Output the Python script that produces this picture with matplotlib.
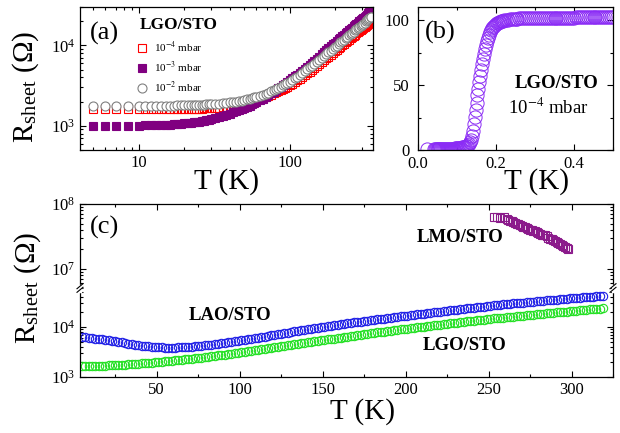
import numpy as np
import matplotlib
matplotlib.use('Agg')
import matplotlib.pyplot as plt
from matplotlib.lines import Line2D
from matplotlib.ticker import LogLocator, NullFormatter, MultipleLocator

plt.rcParams['font.family'] = ['Liberation Serif', 'DejaVu Serif']
plt.rcParams['mathtext.fontset'] = 'stix'
plt.rcParams['xtick.direction'] = 'in'
plt.rcParams['ytick.direction'] = 'in'

# ---- panel (a): LGO/STO, three growth pressures ----
T_a = [5, 6, 7, 8.5, 10, 11, 12, 13, 14, 15, 16, 17, 18, 19, 20, 21, 22, 23, 24, 25,
       26, 27, 28, 29, 30, 32, 34, 36, 38, 40, 42, 44, 46, 48, 50, 52, 54, 56, 58, 60,
       63, 66, 69, 72, 75, 78, 81, 84, 87, 90, 93, 96, 100, 104, 108, 112, 116, 120, 125, 130,
       135, 140, 145, 150, 156, 162, 168, 174, 180, 186, 192, 198, 204, 210, 216, 222, 228, 234, 240, 246,
       252, 258, 264, 270, 276, 282, 288, 294, 300, 306, 312, 318, 324, 330, 336, 342, 346]
R_1e2 = [1780, 1775, 1770, 1770, 1770, 1770, 1772, 1775, 1778, 1780, 1783, 1786, 1790, 1795, 1800, 1805, 1810, 1815, 1820, 1825,
         1830, 1835, 1840, 1845, 1850, 1862, 1878, 1895, 1920, 1950, 1975, 2000, 2030, 2060, 2095, 2130, 2170, 2210, 2250, 2290,
         2355, 2425, 2500, 2585, 2680, 2775, 2870, 2970, 3070, 3170, 3270, 3380, 3520, 3700, 3890, 4090, 4290, 4500, 4770, 5040,
         5320, 5610, 5900, 6200, 6590, 6980, 7380, 7790, 8200, 8620, 9050, 9490, 9940, 10400, 10860, 11330, 11810, 12290, 12780, 13270,
         13770, 14280, 14790, 15310, 15840, 16380, 16930, 17490, 18060, 18640, 19230, 19830, 20440, 21060, 21690, 22330, 22760]
R_1e3 = [1000, 1000, 1000, 1000, 1005, 1010, 1015, 1020, 1025, 1030, 1037, 1044, 1052, 1060, 1070, 1080, 1090, 1100, 1110, 1125,
         1140, 1155, 1170, 1190, 1210, 1250, 1290, 1330, 1375, 1420, 1465, 1510, 1560, 1610, 1665, 1720, 1780, 1840, 1905, 1970,
         2070, 2180, 2290, 2410, 2530, 2655, 2785, 2915, 3050, 3190, 3330, 3480, 3680, 3890, 4110, 4340, 4570, 4800, 5100, 5420,
         5750, 6090, 6440, 6800, 7270, 7750, 8230, 8730, 9240, 9750, 10270, 10810, 11360, 11920, 12480, 13050, 13630, 14220, 14810, 15410,
         16020, 16640, 17270, 17910, 18560, 19220, 19890, 20570, 21260, 21960, 22680, 23410, 24160, 24930, 25720, 26530, 27080]
R_1e4 = [1620, 1615, 1610, 1605, 1600, 1600, 1600, 1600, 1602, 1604, 1606, 1608, 1611, 1614, 1617, 1621, 1625, 1628, 1631, 1635,
         1640, 1645, 1650, 1655, 1660, 1673, 1688, 1705, 1727, 1750, 1775, 1800, 1830, 1860, 1895, 1930, 1965, 2000, 2040, 2080,
         2145, 2215, 2285, 2360, 2440, 2525, 2610, 2700, 2790, 2880, 2975, 3070, 3200, 3350, 3510, 3680, 3850, 4020, 4250, 4480,
         4710, 4950, 5200, 5470, 5810, 6160, 6510, 6870, 7250, 7640, 8030, 8440, 8840, 9250, 9660, 10070, 10490, 10920, 11350, 11790,
         12230, 12680, 13140, 13600, 14070, 14550, 15030, 15520, 16020, 16530, 17050, 17580, 18120, 18670, 19230, 19800, 20190]

# ---- panel (b): superconducting transition ----
T_b = [0.023,
       0.04, 0.0425, 0.045, 0.0475, 0.05, 0.0525, 0.055, 0.0575, 0.06, 0.0625, 0.065, 0.0675,
       0.07, 0.0725, 0.075, 0.0775, 0.08, 0.0825, 0.085, 0.0875, 0.09, 0.0925, 0.095, 0.0975,
       0.1, 0.1025, 0.105, 0.1075, 0.11, 0.1125, 0.115, 0.1175, 0.12,
       0.1225, 0.125, 0.1275, 0.13, 0.1325, 0.135, 0.1375, 0.14, 0.1425, 0.145, 0.1475, 0.15,
       0.1525, 0.155, 0.1575, 0.16, 0.1625, 0.165, 0.1675, 0.17, 0.1725, 0.175, 0.1775, 0.18,
       0.1825, 0.185, 0.1875, 0.19, 0.1925, 0.195,
       0.1975, 0.2, 0.2025, 0.205, 0.2075, 0.21, 0.2125, 0.215, 0.2175, 0.22,
       0.225, 0.23, 0.235, 0.24, 0.245, 0.25, 0.255, 0.26, 0.265, 0.27, 0.275, 0.28, 0.285, 0.29,
       0.295, 0.3, 0.305, 0.31, 0.315, 0.32, 0.325, 0.33, 0.335, 0.34, 0.345, 0.35, 0.355, 0.36,
       0.365, 0.37, 0.375, 0.38, 0.385, 0.39, 0.395, 0.4, 0.405, 0.41, 0.415, 0.42, 0.425, 0.43,
       0.435, 0.44, 0.445, 0.45, 0.455, 0.46, 0.465, 0.47, 0.475, 0.48, 0.485, 0.49, 0.495, 0.5]
R_b = [0.8,
       0.6, 0.6, 0.6, 0.65, 0.7, 0.7, 0.7, 0.75, 0.8, 0.8, 0.8, 0.85,
       0.9, 0.9, 0.9, 0.95, 1.0, 1.0, 1.0, 1.05, 1.1, 1.15, 1.2, 1.25,
       1.3, 1.4, 1.5, 1.65, 1.8, 1.95, 2.1, 2.3, 2.5,
       2.8, 3.2, 3.8, 4.6, 6.0, 8.0, 11, 15, 20, 25.5, 31, 36.5,
       42, 47, 52, 57, 61.5, 66, 70, 74, 77.5, 81, 84, 86.5,
       88.5, 90.5, 92, 93.5, 94.5, 95.5,
       96.3, 97, 97.5, 98, 98.4, 98.8, 99.1, 99.4, 99.6, 99.8,
       100.0, 100.3, 100.5, 100.7, 100.85, 101.0, 101.1, 101.2, 101.3, 101.4, 101.45, 101.5, 101.55, 101.6,
       101.6, 101.6, 101.65, 101.7, 101.7, 101.7, 101.75, 101.8, 101.8, 101.8, 101.8, 101.8, 101.85, 101.85,
       101.85, 101.9, 101.9, 101.9, 101.9, 101.9, 101.9, 101.9, 101.95, 101.95, 101.95, 101.95, 102.0, 102.0,
       102.0, 102.0, 102.0, 102.0, 102.0, 102.0, 102.0, 102.0, 102.0, 102.0, 102.0, 102.0, 102.0, 102.0]

# ---- panel (c): LAO/STO, LGO/STO, LMO/STO ----
T_c = [5, 7, 9, 11, 13, 15, 17, 19, 21, 23, 25, 27, 29, 31, 33, 35, 37, 39, 41, 43,
       45, 47, 49, 51, 53, 55, 57, 59, 61, 63, 65, 67, 69, 71, 73, 75, 77, 79, 81, 83,
       85, 87, 89, 91, 93, 95, 97, 99, 101, 103, 105, 107, 109, 111, 113, 115, 117, 119, 121, 123,
       125, 127, 129, 131, 133, 135, 137, 139, 141, 143, 145, 147, 149, 151, 153, 155, 157, 159, 161, 163,
       165, 167, 169, 171, 173, 175, 177, 179, 181, 183, 185, 187, 189, 191, 193, 195, 197, 199, 201, 203,
       205, 207, 209, 211, 213, 215, 217, 219, 221, 223, 225, 227, 229, 231, 233, 235, 237, 239, 241, 243,
       245, 247, 249, 251, 253, 255, 257, 259, 261, 263, 265, 267, 269, 271, 273, 275, 277, 279, 281, 283,
       285, 287, 289, 291, 293, 295, 297, 299, 301, 303, 305, 307, 309, 311, 313, 315, 317, 319]
R_lao = [6400, 6260, 6130, 6000, 5870, 5750, 5620, 5510, 5390, 5260, 5130, 5010, 4890, 4770, 4650, 4540, 4440, 4340, 4250, 4170,
         4100, 4030, 3980, 3930, 3890, 3870, 3860, 3860, 3880, 3900, 3940, 3970, 4010, 4060, 4120, 4180, 4240, 4300, 4360, 4430,
         4510, 4600, 4700, 4800, 4910, 5020, 5140, 5260, 5380, 5520, 5660, 5790, 5950, 6110, 6270, 6440, 6610, 6780, 6960, 7140,
         7330, 7520, 7720, 7930, 8140, 8350, 8570, 8800, 9020, 9250, 9480, 9710, 9950, 10180, 10410, 10640, 10870, 11110, 11350, 11600,
         11840, 12080, 12330, 12570, 12820, 13080, 13340, 13610, 13890, 14170, 14450, 14740, 15040, 15350, 15650, 15960, 16290, 16600, 16910, 17220,
         17540, 17860, 18200, 18540, 18880, 19230, 19590, 19950, 20320, 20700, 21080, 21480, 21880, 22290, 22700, 23090, 23480, 23880, 24280, 24700,
         25120, 25550, 25980, 26420, 26830, 27250, 27670, 28100, 28530, 28970, 29420, 29880, 30340, 30760, 31190, 31620, 32070, 32510, 32960, 33420,
         33890, 34360, 34840, 35300, 35730, 36170, 36610, 37070, 37530, 37990, 38460, 38930, 39410, 39900, 40390, 40890, 41400, 41910]
R_lgo = [1680, 1677, 1675, 1675, 1678, 1682, 1690, 1697, 1703, 1710, 1723, 1740, 1760, 1773, 1790, 1810, 1830, 1850, 1870, 1890,
         1913, 1940, 1967, 1993, 2020, 2047, 2077, 2110, 2143, 2177, 2210, 2250, 2287, 2320, 2360, 2403, 2450, 2497, 2543, 2590,
         2643, 2697, 2750, 2810, 2867, 2920, 2987, 3053, 3120, 3187, 3257, 3330, 3403, 3480, 3560, 3640, 3723, 3810, 3903, 3993,
         4080, 4180, 4280, 4380, 4480, 4583, 4690, 4797, 4907, 5020, 5140, 5260, 5380, 5500, 5620, 5740, 5867, 5993, 6120, 6253,
         6390, 6530, 6677, 6823, 6970, 7117, 7270, 7430, 7590, 7757, 7930, 8103, 8270, 8430, 8603, 8777, 8950, 9117, 9287, 9460,
         9640, 9820, 10000, 10190, 10380, 10570, 10760, 10960, 11170, 11380, 11590, 11800, 12020, 12240, 12470, 12680, 12900, 13120, 13350, 13570,
         13800, 14040, 14280, 14520, 14750, 14980, 15210, 15440, 15680, 15920, 16170, 16420, 16670, 16930, 17190, 17460, 17700, 17950, 18200, 18450,
         18710, 18970, 19230, 19500, 19770, 20040, 20320, 20610, 20900, 21190, 21480, 21780, 22080, 22390, 22700, 23020, 23340, 23660]
T_lmo = [253.5, 255, 257, 259.5, 261, 262, 263, 264, 265, 266, 267, 268, 269, 270, 271, 272, 273, 274, 275, 276, 277,
         278, 279, 280, 281, 282, 283, 284, 285, 286, 287, 288, 289, 290, 291, 292, 293, 294, 295, 296, 297, 298]
R_lmo = [6.3e7, 6.2e7, 6.1e7, 6.3e7, 5.8e7, 5.6e7, 5.5e7, 5.4e7, 5.25e7, 5.1e7, 4.97e7, 4.9e7, 4.75e7, 4.6e7, 4.47e7,
         4.4e7, 4.3e7, 4.17e7, 4.05e7, 3.95e7, 3.89e7, 3.78e7, 3.66e7, 3.55e7, 3.45e7, 3.38e7, 3.31e7, 3.3e7, 3.22e7,
         3.02e7, 2.93e7, 2.85e7, 2.75e7, 2.68e7, 2.6e7, 2.51e7, 2.44e7, 2.36e7, 2.24e7, 2.18e7, 2.1e7, 2.04e7]

assert len(T_a) == len(R_1e2) == len(R_1e3) == len(R_1e4)
assert len(T_b) == len(R_b)
assert len(T_c) == len(R_lao) == len(R_lgo)
assert len(T_lmo) == len(R_lmo)

W, H = 620, 433


def px(x, y):
    return x / W, 1 - y / H


def style_log_y(ax):
    ax.yaxis.set_major_locator(LogLocator(base=10, numticks=10))
    ax.yaxis.set_minor_locator(LogLocator(base=10, subs=np.arange(2, 10), numticks=12))
    ax.yaxis.set_minor_formatter(NullFormatter())


def style_ticks(ax, top=True, bottom=True):
    ax.tick_params(which='both', top=top, bottom=bottom, right=True, labelsize=12, width=0.8)
    ax.tick_params(which='major', length=4)
    ax.tick_params(which='minor', length=2.2)
    for s in ax.spines.values():
        s.set_linewidth(0.9)


fig = plt.figure(figsize=(6.2, 4.33), dpi=100)

# (a)
ax_a = fig.add_axes([80 / W, 1 - 150 / H, 293 / W, 143 / H])
ax_a.plot(T_a, R_1e4, 's', ms=6, mfc='none', mec='red', mew=0.8, label='10$^{-4}$ mbar')
ax_a.plot(T_a, R_1e3, 's', ms=6, mfc='purple', mec='purple', mew=0.8, label='10$^{-3}$ mbar')
ax_a.plot(T_a, R_1e2, 'o', ms=6.5, mfc='white', mec='grey', mew=0.8, label='10$^{-2}$ mbar')
ax_a.set_xscale('log')
ax_a.set_yscale('log')
ax_a.set_xlim(4.07, 355)
ax_a.set_ylim(500, 30000)
ax_a.xaxis.set_minor_locator(LogLocator(base=10, subs=np.arange(2, 10), numticks=12))
ax_a.xaxis.set_minor_formatter(NullFormatter())
style_log_y(ax_a)
style_ticks(ax_a)
ax_a.set_xticks([10, 100])
ax_a.set_xticklabels(['10', '100'])
ax_a.legend(loc='upper left', bbox_to_anchor=((136 - 80) / 293, (150 - 40) / 143), frameon=False,
            fontsize=8, handlelength=1.0, handletextpad=0.6, labelspacing=0.45,
            borderpad=0, borderaxespad=0)

# (b)
ax_b = fig.add_axes([418 / W, 1 - 150 / H, 195 / W, 143 / H])
ax_b.plot(T_b[::-1], R_b[::-1], 'o', ms=9.5, mfc='none', mec='#8b2cf5', mew=0.7)
ax_b.set_xlim(0, 0.5)
ax_b.set_ylim(0, 110)
ax_b.xaxis.set_minor_locator(MultipleLocator(0.1))
ax_b.yaxis.set_major_locator(MultipleLocator(50))
ax_b.yaxis.set_minor_locator(MultipleLocator(25))
style_ticks(ax_b)
ax_b.set_xticks([0.0, 0.2, 0.4])
ax_b.set_xticklabels(['0.0', '0.2', '0.4'])
ax_b.tick_params(axis='y', pad=6)
ax_b.tick_params(axis='x', pad=4.5)

# (c) broken axis: upper and lower part
ax_c1 = fig.add_axes([80 / W, 1 - 288 / H, 533 / W, 84 / H])
ax_c2 = fig.add_axes([80 / W, 1 - 377 / H, 533 / W, 89 / H])
ax_c1.plot(T_lmo, R_lmo, 's', ms=5.5, mfc='none', mec='#8b1a8b', mew=0.8)
ax_c2.plot(T_c, R_lao, 'o', ms=6, mfc='none', mec='#1f1fe6', mew=0.8)
ax_c2.plot(T_c, R_lgo, 'o', ms=6, mfc='none', mec='#22e022', mew=0.8)
for ax in (ax_c1, ax_c2):
    ax.set_yscale('log')
    ax.set_xlim(3.8, 325)
    ax.xaxis.set_major_locator(MultipleLocator(50))
    ax.xaxis.set_minor_locator(MultipleLocator(25))
    style_log_y(ax)
ax_c1.set_ylim(5.1e6, 1e8)
ax_c2.set_ylim(1e3, 6e4)
ax_c1.spines['bottom'].set_visible(False)
ax_c2.spines['top'].set_visible(False)
style_ticks(ax_c1, top=True, bottom=False)
style_ticks(ax_c2, top=False, bottom=True)
ax_c1.tick_params(labelbottom=False)
ax_c2.set_xticks([50, 100, 150, 200, 250, 300])

# break marks on both spines
for xb in (80, 613):
    fig.add_artist(Line2D([px(xb, 285.5)[0], px(xb, 290.5)[0]], [px(xb, 285.5)[1], px(xb, 290.5)[1]],
                          color='white', lw=2.5))
    for dy in (-1.8, 1.8):
        x0, y0 = px(xb - 3, 288 + dy + 2.5)
        x1, y1 = px(xb + 3, 288 + dy - 2.5)
        fig.add_artist(Line2D([x0, x1], [y0, y1], color='black', lw=0.8))

# texts
bold = dict(fontsize=13.5, fontweight='bold', ha='center', va='center')
fig.text(*px(104, 33), '(a)', fontsize=19, ha='center', va='center')
fig.text(*px(179, 25), 'LGO/STO', fontsize=12.5, fontweight='bold', ha='center', va='center')
fig.text(*px(440, 32), '(b)', fontsize=19, ha='center', va='center')
fig.text(*px(557, 83), 'LGO/STO', **bold)
fig.text(*px(548, 108), '10$^{-4}$ mbar', fontsize=13.5, ha='center', va='center')
fig.text(*px(105, 227), '(c)', fontsize=19, ha='center', va='center')
fig.text(*px(230, 316), 'LAO/STO', **bold)
fig.text(*px(460, 237), 'LMO/STO', **bold)
fig.text(*px(465, 345), 'LGO/STO', **bold)

ylab = 'R$_\\mathregular{sheet}$ (\u03a9)'
fig.text(*px(26, 87), ylab, fontsize=21, rotation=90, ha='center', va='center')
fig.text(*px(28, 288), ylab, fontsize=21, rotation=90, ha='center', va='center')
fig.text(*px(226, 182), 'T (K)', fontsize=21, ha='center', va='center')
fig.text(*px(536, 182), 'T (K)', fontsize=21, ha='center', va='center')
fig.text(*px(362, 412), 'T (K)', fontsize=21, ha='center', va='center')

fig.savefig('out.png', dpi=100)
